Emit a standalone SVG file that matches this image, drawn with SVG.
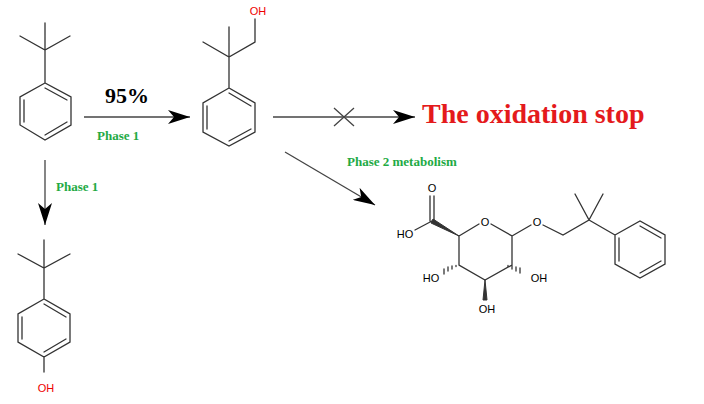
<svg xmlns="http://www.w3.org/2000/svg" width="704" height="404" viewBox="0 0 704 404">
<style>
.b{stroke:#333;stroke-width:1.3;fill:none;stroke-linecap:round}
.a{stroke:#444;stroke-width:1.3;fill:none}
.at{font-family:"Liberation Sans",Arial,sans-serif;font-size:11px;text-anchor:middle}
.g{font-family:"Liberation Serif","Times New Roman",serif;font-weight:bold;fill:#22aa44;font-size:13px}
</style>
<defs><marker id="ah" markerWidth="22" markerHeight="14" refX="22" refY="7" orient="auto" markerUnits="userSpaceOnUse"><path d="M0,0 L22,7 L0,14 L6,7 Z" fill="#000"/></marker></defs>
<rect width="704" height="404" fill="#fff"/>
<g id="tert-butylbenzene">
<path class="b" d="M45,23 L45,50 M20,36 L45,50 L70,36 M45,50 L45,83 M45,83 L20,97 L20,125 L45,140 L71,125 L71,97 Z M24,100 L24,122 M45,135 L67,122 M67,100 L45,88"/>
</g>
<g id="alcohol">
<path class="b" d="M229,27 L229,57 M203,42 L229,57 L255,42 L255,19 M229,57 L229,88 M229,88 L203,103 L203,132 L229,146 L255,132 L255,103 Z M207,106 L207,129 M229,141 L251,129 M251,106 L229,93"/>
<text class="at" x="258" y="15" fill="#e00">OH</text>
</g>
<g id="phenol">
<path class="b" d="M44,240 L44,268 M18,254 L44,268 L70,254 M44,268 L44,299 M44,299 L18,314 L18,342 L44,357 L70,342 L70,314 Z M22,317 L22,339 M44,352 L66,339 M66,317 L44,304 M44,357 L44,372"/>
<text class="at" x="46" y="392" fill="#e00">OH</text>
</g>
<g id="glucuronide">
<path class="b" d="M459,236 L479,224 M491,224 L512,236 L512,265 L485,280 L459,265 L459,236 M512,236 L531,225 M543,225 L563,235 L589,220 L575,194 M589,220 L603,194 M589,220 L615,235 M615,235 L640,221 L665,235 L665,264 L640,278 L615,264 Z M619,238 L619,261 M640,273 L661,261 M661,238 L640,226 M432,221 L415,230 M430,221 L430,196 M434,221 L434,196"/>
<path d="M459,236 L433,219 L431,223 Z" fill="#333" stroke="#333" stroke-width="1"/>
<path d="M485,280 L483,300 L487,300 Z" fill="#333" stroke="#333" stroke-width="1"/>
<path class="b" stroke-width="1" d="M456,265.5 L456,266.5 M452,266 L452,269 M448,267 L448,271 M444,269 L444,274 M508,265.5 L508,266.5 M512,266 L512,269 M516,267 L516,271 M520,268 L520,273"/>
<text class="at" x="485" y="226">O</text>
<text class="at" x="537" y="226">O</text>
<text class="at" x="432" y="192">O</text>
<text class="at" x="405" y="238">HO</text>
<text class="at" x="431" y="282">HO</text>
<text class="at" x="539" y="282">OH</text>
<text class="at" x="487" y="313">OH</text>
</g>
<g id="connectors">
<line class="a" x1="84" y1="117" x2="190" y2="117" marker-end="url(#ah)"/>
<line class="a" x1="273" y1="117" x2="415" y2="117" marker-end="url(#ah)"/>
<path class="a" d="M334,108 L354,126 M354,108 L334,126"/>
<line class="a" x1="285" y1="152" x2="375" y2="205" marker-end="url(#ah)"/>
<line class="a" x1="45" y1="160" x2="45" y2="225" marker-end="url(#ah)"/>
</g>
<g id="labels">
<text x="127" y="103" text-anchor="middle" font-family="Liberation Serif,serif" font-weight="bold" font-size="22">95%</text>
<text class="g" x="97" y="140">Phase 1</text>
<text class="g" x="56" y="191">Phase 1</text>
<text class="g" x="347" y="166" font-size="12">Phase 2 metabolism</text>
<text x="422" y="123" font-family="Liberation Serif,serif" font-weight="bold" font-size="28" fill="#e41a1c">The oxidation stop</text>
</g>
</svg>
